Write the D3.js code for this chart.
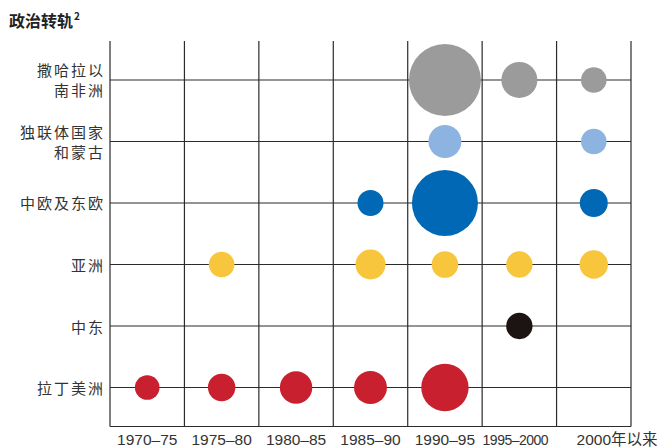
<!DOCTYPE html>
<html>
<head>
<meta charset="utf-8">
<script src="https://cdn.jsdelivr.net/npm/d3@7"></script>
<style>
  body { margin: 0; background: #fff; }
  svg { display: block; }
  .cjk { font-family: "Noto Sans CJK SC", "Noto Sans", sans-serif; }
  .num { font-family: "Liberation Sans", Arial, sans-serif; }
</style>
</head>
<body>
<svg id="chart" width="666" height="448"></svg>
<script>
  // periods along the bottom
  const periods = ["1970–75", "1975–80", "1980–85", "1985–90", "1990–95", "1995–2000", "2000年以来"];

  // regions, top to bottom; labels split into lines as printed
  const regions = ["ssa", "cis", "cee", "asia", "me", "latam"];
  const regionLabels = [
    ["撒哈拉以", "南非洲"],
    ["独联体国家", "和蒙古"],
    ["中欧及东欧"],
    ["亚洲"],
    ["中东"],
    ["拉丁美洲"]
  ];
  const regionColors = ["#9b9b9b", "#8db3e0", "#0068b5", "#f8c63c", "#1b1412", "#c8202e"];

  // relative size of each bubble (area); null = none
  const ssaValues   = [null, null, null, null, 100, 25, 12.6];
  const cisValues   = [null, null, null, null, 21, null, 12.6];
  const ceeValues   = [null, null, null, 13, 84, null, 15.1];
  const asiaValues  = [null, 12.6, null, 17.4, 13.6, 13.4, 15.6];
  const meValues    = [null, null, null, null, null, 13.4, null];
  const latamValues = [11.7, 14.5, 20.3, 21, 43.3, null, null];

  const seriesValues = [ssaValues, cisValues, ceeValues, asiaValues, meValues, latamValues];

  const title = "政治转轨";

  const svg = d3.select("#chart");
  const m = { left: 110, right: 631, top: 41, bottom: 426.5 };

  const x = d3.scaleBand().domain(periods).range([m.left, m.right]);
  const y = d3.scalePoint().domain(regions).range([m.top, m.bottom]).padding(0.634);
  const r = d3.scaleSqrt().domain([0, 100]).range([0, 36]);

  const gridColor = "#2b2b2b";
  const grid = svg.append("g").attr("stroke", gridColor).attr("stroke-width", 1.2);

  // vertical lines at band edges
  const edges = periods.map(p => x(p)).concat([m.right]);
  grid.selectAll("line.v").data(edges).join("line")
    .attr("class", "v")
    .attr("x1", d => d).attr("x2", d => d)
    .attr("y1", m.top).attr("y2", m.bottom);

  // horizontal lines at each region + bottom frame
  grid.selectAll("line.h").data(regions.map(d => y(d)).concat([m.bottom])).join("line")
    .attr("class", "h")
    .attr("x1", m.left).attr("x2", m.right)
    .attr("y1", d => d).attr("y2", d => d);

  // bubbles
  const cells = [];
  seriesValues.forEach((vals, i) => {
    vals.forEach((v, j) => {
      if (v != null) cells.push({ region: regions[i], period: periods[j], value: v, color: regionColors[i] });
    });
  });

  svg.append("g").selectAll("circle").data(cells).join("circle")
    .attr("cx", d => x(d.period) + x.bandwidth() / 2)
    .attr("cy", d => y(d.region))
    .attr("r", d => r(d.value))
    .attr("fill", d => d.color);

  // y labels
  const yl = svg.append("g").attr("class", "cjk")
    .attr("font-size", 15).attr("fill", "#333")
    .attr("text-anchor", "end").attr("letter-spacing", 2);
  regions.forEach((reg, i) => {
    const lines = regionLabels[i];
    const t = yl.append("text").attr("x", 105).attr("y", y(reg));
    lines.forEach((ln, k) => {
      t.append("tspan")
        .attr("x", 105)
        .attr("y", y(reg) + (lines.length === 1 ? 0 : (k === 0 ? -10 : 10)))
        .attr("dominant-baseline", "central")
        .text(ln);
    });
  });

  // x labels: year part centred under the column, smaller if too wide
  const xl = svg.append("g").attr("font-size", 15.5).attr("fill", "#333");
  periods.forEach(p => {
    const cx = x(p) + x.bandwidth() / 2;
    const mt = p.match(/^([\d–]+)(.*)$/);
    const t = xl.append("text").attr("y", 445);
    if (mt[2]) {
      const a = t.append("tspan").attr("class", "num").text(mt[1]);
      t.append("tspan").attr("class", "cjk").text(mt[2]);
      const w = a.node().getComputedTextLength();
      t.attr("x", cx - w / 2);
    } else {
      t.attr("class", "num").attr("x", cx).attr("text-anchor", "middle").text(p);
      if (t.node().getComputedTextLength() > x.bandwidth() - 9) {
        t.attr("x", cx - 4).attr("font-size", 14).attr("letter-spacing", -0.5);
      }
    }
  });

  // title
  const tt = svg.append("text").attr("class", "cjk")
    .attr("x", 9).attr("y", 27)
    .attr("font-size", 16).attr("font-weight", "bold").attr("fill", "#222");
  tt.append("tspan").text(title);
  tt.append("tspan").attr("font-size", 10).attr("dy", -7).attr("dx", 1).text("2");
</script>
</body>
</html>
